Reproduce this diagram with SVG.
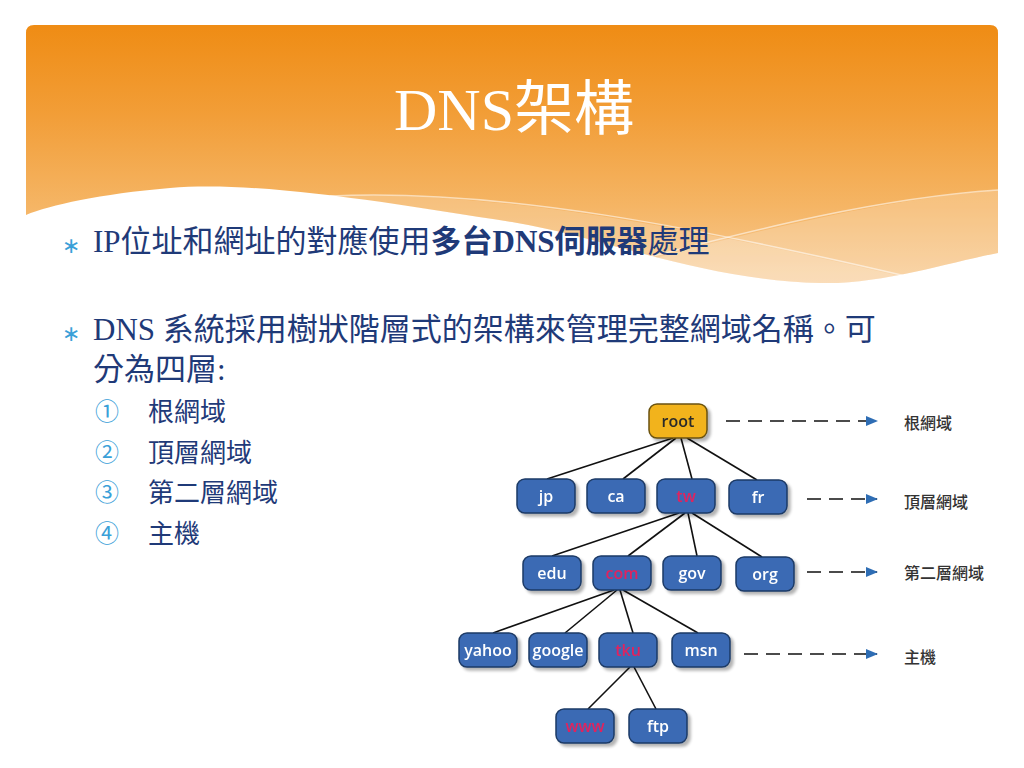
<svg xmlns="http://www.w3.org/2000/svg" width="1024" height="768" viewBox="0 0 1024 768">
<defs>
<linearGradient id="hdr" x1="0" y1="25" x2="0" y2="285" gradientUnits="userSpaceOnUse">
<stop offset="0" stop-color="#EF8C14"/>
<stop offset="0.35" stop-color="#F29E38"/>
<stop offset="0.7" stop-color="#F5B565"/>
<stop offset="1" stop-color="#F8CC96"/>
</linearGradient>
<marker id="ah" viewBox="0 0 12 10" refX="11" refY="5" markerWidth="13" markerHeight="10" markerUnits="userSpaceOnUse" orient="auto">
<path d="M0,0 L12,5 L0,10 Z" fill="#2E6DB4"/>
</marker>
<filter id="sh" x="-20%" y="-20%" width="150%" height="160%">
<feGaussianBlur in="SourceAlpha" stdDeviation="1.5"/>
<feOffset dx="3" dy="3" result="b"/>
<feComponentTransfer><feFuncA type="linear" slope="0.3"/></feComponentTransfer>
<feMerge><feMergeNode/><feMergeNode in="SourceGraphic"/></feMerge>
</filter>
</defs>
<style>
.node rect{fill:#3B6BB4;stroke:#1E3A66;stroke-width:1.5}
.node text{font-family:"Open Sans","Noto Sans",sans-serif;font-size:16px;font-weight:600;fill:#FFFFFF;text-anchor:middle}
.node text.red{fill:#E0245E}
.root rect{fill:#F2B31A;stroke:#6A5210}
.root text{fill:#2B2B2B}
.edge line{stroke:#111111;stroke-width:1.6}
.dash{stroke:#2E6DB4;stroke-width:3;stroke-dasharray:14 8;fill:none}
.lvl{font-family:"Noto Sans CJK TC",sans-serif;font-size:16px;font-weight:500;fill:#333333}
.body{font-family:"Liberation Serif","Noto Sans CJK TC",serif;font-size:31px;fill:#1F3A78}
.list{font-family:"Noto Sans CJK TC",sans-serif;font-size:26px;fill:#1F3A78}
.num{font-family:"Noto Sans CJK TC",sans-serif;font-size:24px;fill:#3AA0D8}
.star{font-family:"DejaVu Sans",sans-serif;font-size:22px;fill:#3AA0D8}
</style>
<rect width="1024" height="768" fill="#FFFFFF"/>
<g id="header">
<path d="M26,33 Q26,25 34,25 L990,25 Q998,25 998,33 L998,253 C950,262 880,285 820,283 C700,280 600,236 512,222 C400,205 260,180 170,188 C100,194 50,205 26,215 Z" fill="url(#hdr)"/>
<path d="M330,196 C500,190 700,230 900,276 C870,282 840,284 820,283 C700,280 600,236 512,222 C440,211 380,202 330,196 Z" fill="#FFFFFF" opacity="0.18"/>
<path d="M640,262 C760,230 880,200 998,190 L998,253 C950,262 880,285 820,283 C760,282 700,272 640,262 Z" fill="#FFFFFF" opacity="0.2"/>
<path d="M330,196 C500,188 700,228 910,277" fill="none" stroke="#FFFFFF" stroke-opacity="0.55" stroke-width="1.5"/>
<path d="M630,262 C760,228 880,198 998,190" fill="none" stroke="#FFFFFF" stroke-opacity="0.55" stroke-width="1.5"/>
<text x="514" y="130" text-anchor="middle" font-family="'Liberation Serif','Noto Sans CJK TC',serif" font-size="60" fill="#FFFFFF">DNS架構</text>
</g>
<g id="bullets">
<text class="star" x="62" y="253">∗</text>
<text class="body" x="93" y="252">IP位址和網址的對應使用<tspan font-weight="bold">多台DNS伺服器</tspan>處理</text>
<text class="star" x="62" y="341">∗</text>
<text class="body" x="93" y="340">DNS 系統採用樹狀階層式的架構來管理完整網域名稱。可</text>
<text class="body" x="93" y="380">分為四層:</text>
<text class="num" x="95" y="420">①</text>
<text class="list" x="148" y="421">根網域</text>
<text class="num" x="95" y="461">②</text>
<text class="list" x="148" y="462">頂層網域</text>
<text class="num" x="95" y="501">③</text>
<text class="list" x="148" y="502">第二層網域</text>
<text class="num" x="95" y="542">④</text>
<text class="list" x="148" y="543">主機</text>
</g>
<g id="connectors" class="edge">
<line x1="673" y1="438" x2="547" y2="479"/>
<line x1="676" y1="438" x2="623" y2="479"/>
<line x1="681" y1="438" x2="692" y2="479"/>
<line x1="687" y1="438" x2="757" y2="480"/>
<line x1="679" y1="513" x2="552" y2="556"/>
<line x1="685" y1="513" x2="628" y2="556"/>
<line x1="688" y1="513" x2="697" y2="556"/>
<line x1="692" y1="513" x2="762" y2="557"/>
<line x1="614" y1="590" x2="493" y2="633"/>
<line x1="617" y1="590" x2="565" y2="633"/>
<line x1="620" y1="590" x2="633" y2="633"/>
<line x1="623" y1="590" x2="698" y2="633"/>
<line x1="630" y1="667" x2="588" y2="709"/>
<line x1="634" y1="667" x2="656" y2="709"/>
<line class="dash" x1="726" y1="421" x2="877" y2="421" marker-end="url(#ah)"/>
<line class="dash" x1="807" y1="499" x2="877" y2="499" marker-end="url(#ah)"/>
<line class="dash" x1="807" y1="572" x2="877" y2="572" marker-end="url(#ah)"/>
<line class="dash" x1="744" y1="654" x2="877" y2="654" marker-end="url(#ah)"/>
</g>
<g id="n-root" class="node root" filter="url(#sh)"><rect x="649" y="404" width="58" height="34" rx="8"/><text x="678" y="427">root</text></g>
<g id="n-jp" class="node" filter="url(#sh)"><rect x="517" y="479" width="58" height="34" rx="8"/><text x="546" y="502">jp</text></g>
<g id="n-ca" class="node" filter="url(#sh)"><rect x="587" y="479" width="58" height="34" rx="8"/><text x="616" y="502">ca</text></g>
<g id="n-tw" class="node" filter="url(#sh)"><rect x="657" y="479" width="58" height="34" rx="8"/><text class="red" x="686" y="502">tw</text></g>
<g id="n-fr" class="node" filter="url(#sh)"><rect x="729" y="480" width="58" height="34" rx="8"/><text x="758" y="503">fr</text></g>
<g id="n-edu" class="node" filter="url(#sh)"><rect x="523" y="556" width="58" height="34" rx="8"/><text x="552" y="579">edu</text></g>
<g id="n-com" class="node" filter="url(#sh)"><rect x="593" y="556" width="58" height="34" rx="8"/><text class="red" x="622" y="579">com</text></g>
<g id="n-gov" class="node" filter="url(#sh)"><rect x="663" y="556" width="58" height="34" rx="8"/><text x="692" y="579">gov</text></g>
<g id="n-org" class="node" filter="url(#sh)"><rect x="736" y="557" width="58" height="34" rx="8"/><text x="765" y="580">org</text></g>
<g id="n-yahoo" class="node" filter="url(#sh)"><rect x="459" y="633" width="58" height="34" rx="8"/><text x="488" y="656">yahoo</text></g>
<g id="n-google" class="node" filter="url(#sh)"><rect x="529" y="633" width="58" height="34" rx="8"/><text x="558" y="656">google</text></g>
<g id="n-tku" class="node" filter="url(#sh)"><rect x="599" y="633" width="58" height="34" rx="8"/><text class="red" x="628" y="656">tku</text></g>
<g id="n-msn" class="node" filter="url(#sh)"><rect x="672" y="633" width="58" height="34" rx="8"/><text x="701" y="656">msn</text></g>
<g id="n-www" class="node" filter="url(#sh)"><rect x="556" y="709" width="58" height="34" rx="8"/><text class="red" x="585" y="732">www</text></g>
<g id="n-ftp" class="node" filter="url(#sh)"><rect x="629" y="709" width="58" height="34" rx="8"/><text x="658" y="732">ftp</text></g>
<g id="labels">
<text class="lvl" x="904" y="429">根網域</text>
<text class="lvl" x="904" y="508">頂層網域</text>
<text class="lvl" x="904" y="579">第二層網域</text>
<text class="lvl" x="904" y="663">主機</text>
</g>
</svg>
